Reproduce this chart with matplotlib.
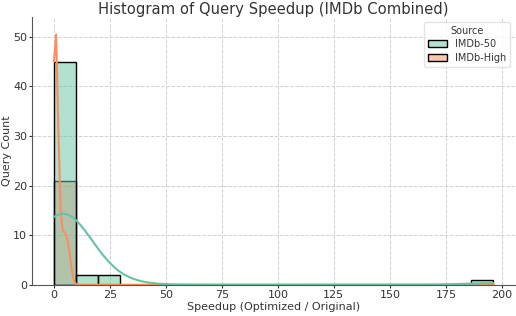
import matplotlib
matplotlib.use("Agg")
import matplotlib.pyplot as plt
import seaborn as sns
import pandas as pd

# speedup values per source
imdb_50 = [0.3, 0.5, 0.6, 0.8, 0.9, 1.0, 1.1, 1.2, 1.3, 1.4,
           1.5, 1.6, 1.7, 1.8, 1.9, 2.0, 2.1, 2.2, 2.4, 2.5,
           2.6, 2.8, 3.0, 3.1, 3.3, 3.5, 3.7, 3.9, 4.1, 4.3,
           4.5, 4.8, 5.0, 5.2, 5.5, 5.8, 6.0, 6.3, 6.6, 6.9,
           7.2, 7.6, 8.0, 8.5, 9.2,
           12.5, 16.0, 22.0, 27.5, 196.0]
imdb_high = [0.1, 0.2, 0.3, 0.4, 0.5, 0.5, 0.6, 0.6, 0.7, 0.8,
             0.9, 1.0, 1.1, 1.3, 1.5, 1.8, 3.3, 4.2, 5.0, 6.0, 7.0]
sources = ["IMDb-50", "IMDb-High"]

df = pd.DataFrame({
    "Speedup": imdb_50 + imdb_high,
    "Source": [sources[0]] * len(imdb_50) + [sources[1]] * len(imdb_high),
})

txt = "#333333"
plt.rcParams.update({
    "text.color": txt, "axes.labelcolor": txt,
    "xtick.color": txt, "ytick.color": txt,
    "axes.edgecolor": "#555555",
})

fig, ax = plt.subplots(figsize=(5.16, 3.16), dpi=100)
sns.histplot(data=df, x="Speedup", hue="Source", hue_order=sources, bins=20,
             kde=True, palette="Set2", edgecolor="black", linewidth=1.0, ax=ax)

ax.set_ylim(0, 54)
ax.grid(True, linestyle="--", color="#d0d0d0", linewidth=0.7)
ax.set_axisbelow(True)
for s in ["top", "right"]:
    ax.spines[s].set_visible(False)
ax.tick_params(labelsize=8, length=2.5, pad=1)
ax.set_title("Histogram of Query Speedup (IMDb Combined)", fontsize=10.6, pad=1.5)
ax.set_xlabel("Speedup (Optimized / Original)", fontsize=8, labelpad=1.5)
ax.set_ylabel("Query Count", fontsize=8, labelpad=0.5)

sns.move_legend(ax, "upper right", title="Source", fontsize=7, title_fontsize=7,
                handlelength=2.0, borderpad=0.4, labelspacing=0.35)
ax.get_legend().get_frame().set_edgecolor("#dddddd")

fig.subplots_adjust(left=0.062, right=0.998, bottom=0.099, top=0.946)
fig.savefig("out.png", dpi=100)
